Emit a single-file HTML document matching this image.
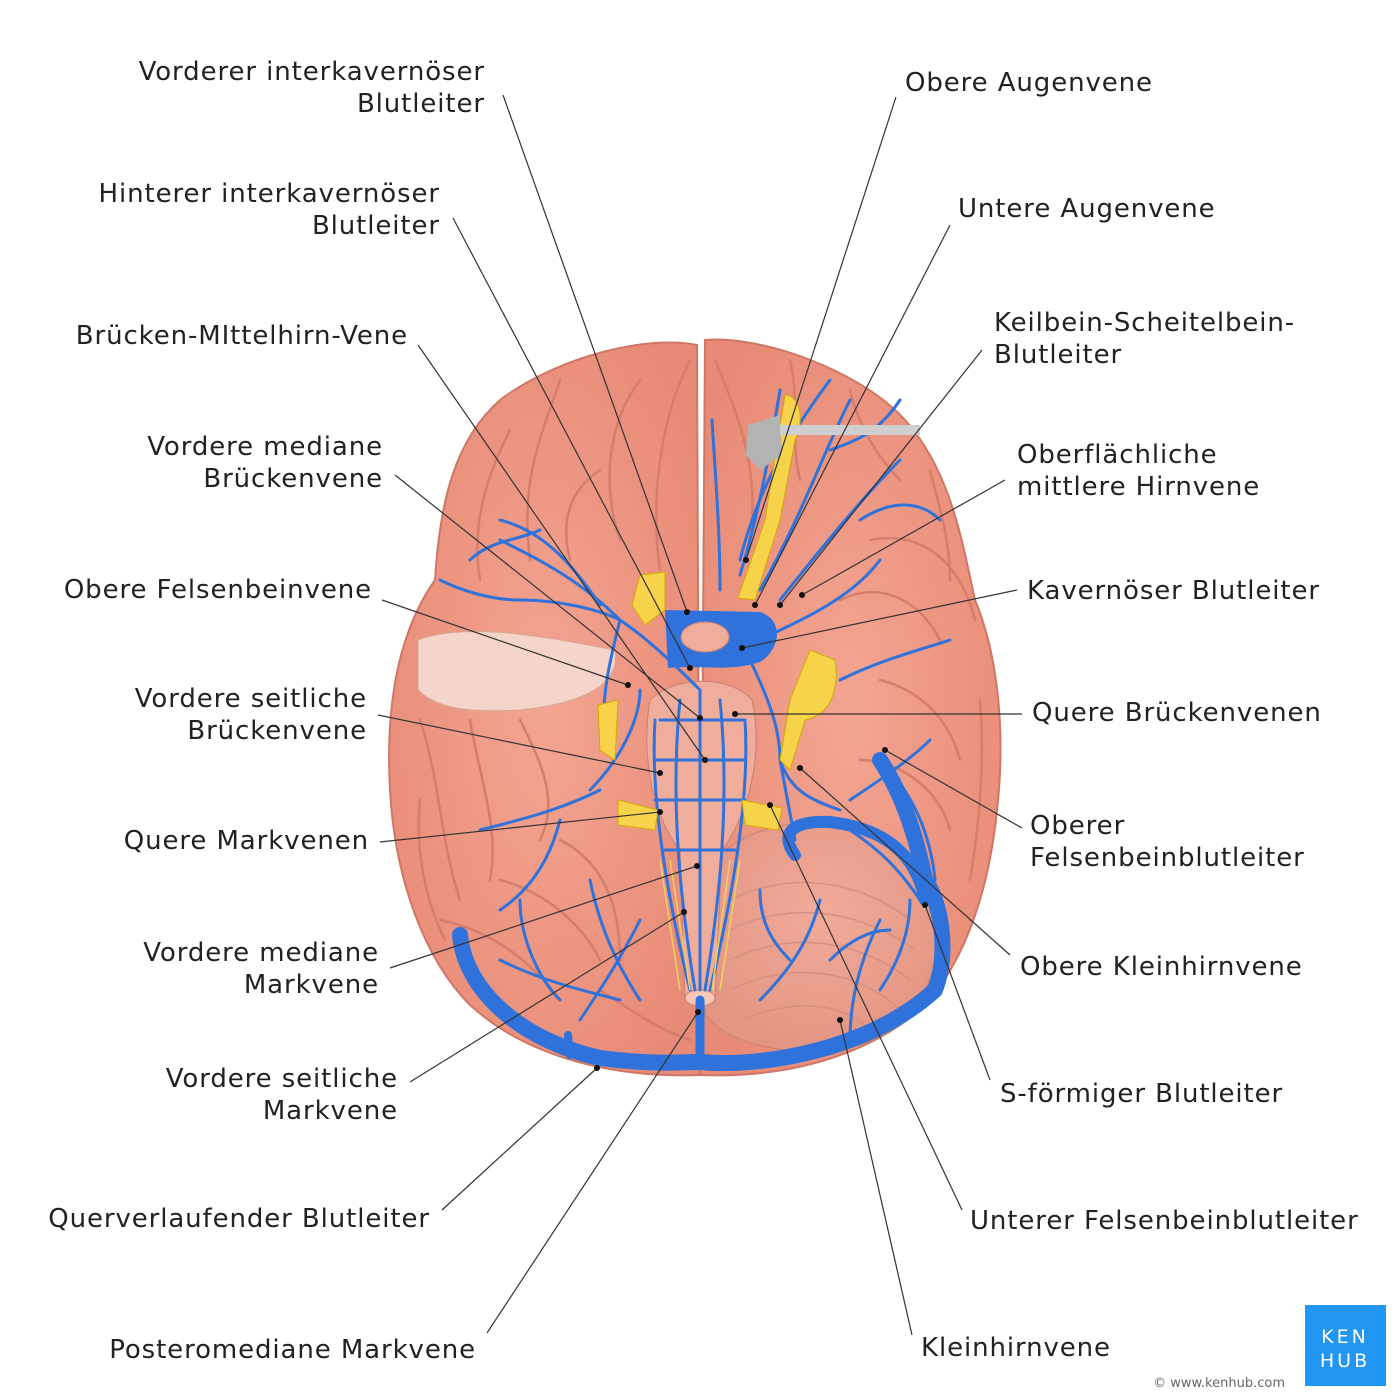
<!DOCTYPE html>
<html><head><meta charset="utf-8"><style>
html,body{margin:0;padding:0;background:#fff}
svg{display:block}
text{font-family:"DejaVu Sans",sans-serif;font-size:26px;fill:#222;letter-spacing:0.9px}
</style></head><body>
<svg width="1400" height="1400" viewBox="0 0 1400 1400" xmlns="http://www.w3.org/2000/svg">
<defs>
<radialGradient id="g1" cx="50%" cy="50%" r="60%"><stop offset="0" stop-color="#f3a592"/><stop offset="1" stop-color="#e88b76"/></radialGradient>
<radialGradient id="g2" cx="50%" cy="40%" r="60%"><stop offset="0" stop-color="#f2ab9a"/><stop offset="1" stop-color="#e39583"/></radialGradient>
</defs>
<path d="M697,345 C650,335 560,355 500,400 C455,440 440,500 435,580 C400,630 385,700 390,790 C395,880 425,960 470,1005 C530,1060 620,1078 700,1075 Z" fill="url(#g1)" stroke="#cf7764" stroke-width="2"/>
<path d="M705,340 C760,335 860,370 905,420 C950,470 962,540 975,600 C1000,660 1005,740 997,810 C988,900 960,970 920,1010 C860,1060 780,1078 700,1075 Z" fill="url(#g1)" stroke="#cf7764" stroke-width="2"/>
<g fill="none" stroke="#d47e6b" stroke-width="2.5" stroke-linecap="round">
<path d="M690,360 C660,420 650,500 660,570 M640,380 C610,420 600,480 620,540 M560,380 C540,440 520,480 530,560 M510,430 C490,470 470,520 480,580 M600,470 C570,490 560,520 570,560"/>
<path d="M715,360 C740,420 760,470 750,540 M790,360 C800,400 790,440 800,480 M850,390 C860,430 880,460 900,480 M930,470 C940,510 950,540 950,580"/>
<path d="M870,540 C920,530 960,560 975,620 M840,600 C880,580 920,600 940,640 M880,680 C920,690 950,720 960,760 M860,760 C900,760 940,790 950,830 M980,700 C985,760 980,820 970,880"/>
<path d="M420,720 C440,780 440,840 460,900 M470,720 C480,780 500,830 490,880 M520,720 C540,760 560,800 540,840 M440,920 C490,930 530,960 560,1000 M500,880 C540,890 580,920 600,960 M560,840 C600,860 620,900 620,960 M420,800 C415,850 425,900 445,940 M600,990 C630,1010 660,1030 690,1040"/>
</g>
<path d="M705,870 C760,800 890,810 935,880 C955,940 930,1020 860,1045 C790,1060 730,1045 705,1015 Z" fill="url(#g2)" stroke="#cc8070"/>
<g fill="none" stroke="#d79080" stroke-width="1.5">
<path d="M730,900 C790,870 860,880 910,920 M730,930 C790,900 860,910 915,950 M730,960 C790,930 860,940 910,980 M730,990 C790,960 860,970 900,1010 M740,1020 C790,1000 840,1000 870,1030"/>
</g>
<path d="M418,640 C470,620 560,640 615,650 C622,690 570,705 520,710 C480,712 440,712 418,690 Z" fill="#f5d5ca" stroke="#d7a696"/>
<path d="M650,700 C675,675 730,675 752,700 C765,760 745,820 722,850 L715,1000 L685,1000 L680,850 C655,820 640,760 650,700 Z" fill="#f0ad9c" stroke="#c98070"/>
<ellipse cx="700" cy="998" rx="15" ry="8" fill="#f5c8b5" stroke="#c98070"/>
<g fill="none" stroke="#2f72db" stroke-linecap="round" stroke-linejoin="round">
<path d="M460,935 C465,990 520,1040 600,1058 C650,1065 690,1062 700,1062 C760,1068 870,1050 935,990 C950,950 940,900 925,880 C915,830 900,790 880,760" stroke-width="16"/>
<path d="M795,855 C780,835 790,820 830,822 C880,828 915,850 925,900" stroke-width="12"/>
<path d="M700,1000 L700,1060" stroke-width="9"/>
<path d="M568,1035 L570,1055" stroke-width="8"/>
<g stroke-width="3">
<path d="M700,690 L700,990 M655,720 C650,800 668,900 690,990 M745,720 C750,800 732,900 710,990 M680,700 C670,800 680,900 695,990 M720,700 C730,800 720,900 705,990"/>
<path d="M660,720 L745,720 M655,760 L745,760 M655,800 L745,800 M665,850 L735,850"/>
<path d="M700,690 C680,670 650,640 620,620 C600,610 560,600 520,600 C490,600 460,590 440,580 M620,620 C580,580 540,560 500,540 M600,605 C570,560 540,530 500,520 M470,560 C490,540 520,540 540,530"/>
<path d="M620,620 C610,660 600,700 605,740 M640,690 C640,720 620,760 590,790 M600,790 C560,810 520,820 480,830 M560,820 C550,860 530,890 500,910 M520,900 C520,940 540,980 560,1000 M590,880 C600,930 620,970 640,1000 M640,920 C620,960 600,990 580,1020 M500,960 C540,980 580,990 620,1000"/>
<path d="M760,640 C800,620 850,600 880,560 M780,600 C820,550 860,500 900,460 M760,590 C800,520 820,460 850,400 M740,575 C760,510 770,450 780,390 M720,590 C720,530 715,470 712,420 M740,560 C760,480 800,420 830,380 M830,450 C860,440 880,430 900,400 M860,520 C890,500 920,500 940,520"/>
<path d="M745,650 C770,700 780,730 780,760 C790,790 810,800 840,810 M780,760 L795,840 M850,800 C880,780 910,760 930,740 M840,680 C880,660 920,650 950,640 M880,760 C910,790 930,830 935,880 M850,830 C880,850 900,870 920,900"/>
<path d="M760,1000 C790,970 810,940 820,900 M790,960 C770,940 760,920 760,890 M850,1040 C850,1000 860,960 880,920 M880,990 C900,960 910,930 910,900 M830,960 C850,940 870,930 890,930"/>
</g>
</g>
<path d="M665,610 L760,612 C785,620 780,650 760,662 C730,672 700,665 668,668 Z" fill="#2f72db"/>
<ellipse cx="705" cy="637" rx="24" ry="15" fill="#f0ad9c" stroke="#c98070"/>
<g fill="#f6d34a" stroke="#d2a900">
<path d="M785,395 C800,395 805,420 795,440 L780,520 L755,600 L738,598 L765,520 Z"/>
<path d="M640,575 L665,572 L665,610 L645,625 L632,605 Z"/>
<path d="M810,650 L835,660 C840,690 830,715 805,720 L790,770 L780,760 L790,700 Z"/>
<path d="M598,705 L618,700 L615,760 L600,750 Z"/>
<path d="M618,800 L658,810 L655,830 L618,825 Z M742,800 L782,808 L778,830 L745,825 Z"/>
</g>
<g stroke="#f0d060" stroke-width="1.5"><path d="M660,860 L680,990 M670,860 L690,990 M740,860 L720,990 M730,860 L712,990"/></g>
<path d="M748,425 L780,415 L782,455 L760,470 L746,455 Z" fill="#b3b3b3"/>
<rect x="780" y="425" width="140" height="10" fill="#cfcfcf"/>
<g stroke="#333" stroke-width="1.2" fill="none">
<line x1="503" y1="95" x2="687" y2="612"/>
<line x1="453" y1="218" x2="690" y2="668"/>
<line x1="418" y1="345" x2="705" y2="760"/>
<line x1="395" y1="475" x2="700" y2="718"/>
<line x1="382" y1="600" x2="628" y2="685"/>
<line x1="378" y1="715" x2="660" y2="773"/>
<line x1="380" y1="842" x2="660" y2="812"/>
<line x1="390" y1="968" x2="697" y2="866"/>
<line x1="410" y1="1082" x2="684" y2="912"/>
<line x1="442" y1="1210" x2="597" y2="1068"/>
<line x1="487" y1="1333" x2="698" y2="1012"/>
<line x1="896" y1="97" x2="746" y2="560"/>
<line x1="950" y1="225" x2="755" y2="605"/>
<line x1="982" y1="350" x2="780" y2="605"/>
<line x1="1005" y1="480" x2="802" y2="595"/>
<line x1="1017" y1="590" x2="742" y2="648"/>
<line x1="1022" y1="714" x2="735" y2="714"/>
<line x1="1022" y1="828" x2="885" y2="750"/>
<line x1="1010" y1="955" x2="800" y2="768"/>
<line x1="990" y1="1080" x2="925" y2="905"/>
<line x1="962" y1="1210" x2="770" y2="805"/>
<line x1="912" y1="1335" x2="840" y2="1020"/>
</g>
<g fill="#111">
<circle cx="687" cy="612" r="3"/><circle cx="690" cy="668" r="3"/><circle cx="705" cy="760" r="3"/><circle cx="700" cy="718" r="3"/><circle cx="628" cy="685" r="3"/><circle cx="660" cy="773" r="3"/><circle cx="660" cy="812" r="3"/><circle cx="697" cy="866" r="3"/><circle cx="684" cy="912" r="3"/><circle cx="597" cy="1068" r="3"/><circle cx="698" cy="1012" r="3"/><circle cx="746" cy="560" r="3"/><circle cx="755" cy="605" r="3"/><circle cx="780" cy="605" r="3"/><circle cx="802" cy="595" r="3"/><circle cx="742" cy="648" r="3"/><circle cx="735" cy="714" r="3"/><circle cx="885" cy="750" r="3"/><circle cx="800" cy="768" r="3"/><circle cx="925" cy="905" r="3"/><circle cx="770" cy="805" r="3"/><circle cx="840" cy="1020" r="3"/>
</g>
<g text-anchor="end">
<text x="485" y="80">Vorderer interkavernöser</text><text x="485" y="112">Blutleiter</text>
<text x="440" y="202">Hinterer interkavernöser</text><text x="440" y="234">Blutleiter</text>
<text x="408" y="344">Brücken-MIttelhirn-Vene</text>
<text x="383" y="455">Vordere mediane</text><text x="383" y="487">Brückenvene</text>
<text x="372" y="598">Obere Felsenbeinvene</text>
<text x="367" y="707">Vordere seitliche</text><text x="367" y="739">Brückenvene</text>
<text x="369" y="849">Quere Markvenen</text>
<text x="379" y="961">Vordere mediane</text><text x="379" y="993">Markvene</text>
<text x="398" y="1087">Vordere seitliche</text><text x="398" y="1119">Markvene</text>
<text x="430" y="1227">Querverlaufender Blutleiter</text>
<text x="476" y="1358">Posteromediane Markvene</text>
</g>
<text x="905" y="91">Obere Augenvene</text>
<text x="958" y="217">Untere Augenvene</text>
<text x="994" y="331">Keilbein-Scheitelbein-</text><text x="994" y="363">Blutleiter</text>
<text x="1017" y="463">Oberflächliche</text><text x="1017" y="495">mittlere Hirnvene</text>
<text x="1027" y="599">Kavernöser Blutleiter</text>
<text x="1032" y="721">Quere Brückenvenen</text>
<text x="1030" y="834">Oberer</text><text x="1030" y="866">Felsenbeinblutleiter</text>
<text x="1020" y="975">Obere Kleinhirnvene</text>
<text x="1000" y="1102">S-förmiger Blutleiter</text>
<text x="970" y="1229">Unterer Felsenbeinblutleiter</text>
<text x="921" y="1356">Kleinhirnvene</text>
<rect x="1305" y="1305" width="81" height="81" fill="#2196f3"/>
<text x="1345" y="1343" text-anchor="middle" style="fill:#fff;font-size:19px;letter-spacing:3px">KEN</text>
<text x="1345" y="1367" text-anchor="middle" style="fill:#fff;font-size:19px;letter-spacing:3px">HUB</text>
<text x="1285" y="1387" text-anchor="end" style="font-size:13px;fill:#666;letter-spacing:0">© www.kenhub.com</text>
</svg>
</body></html>
